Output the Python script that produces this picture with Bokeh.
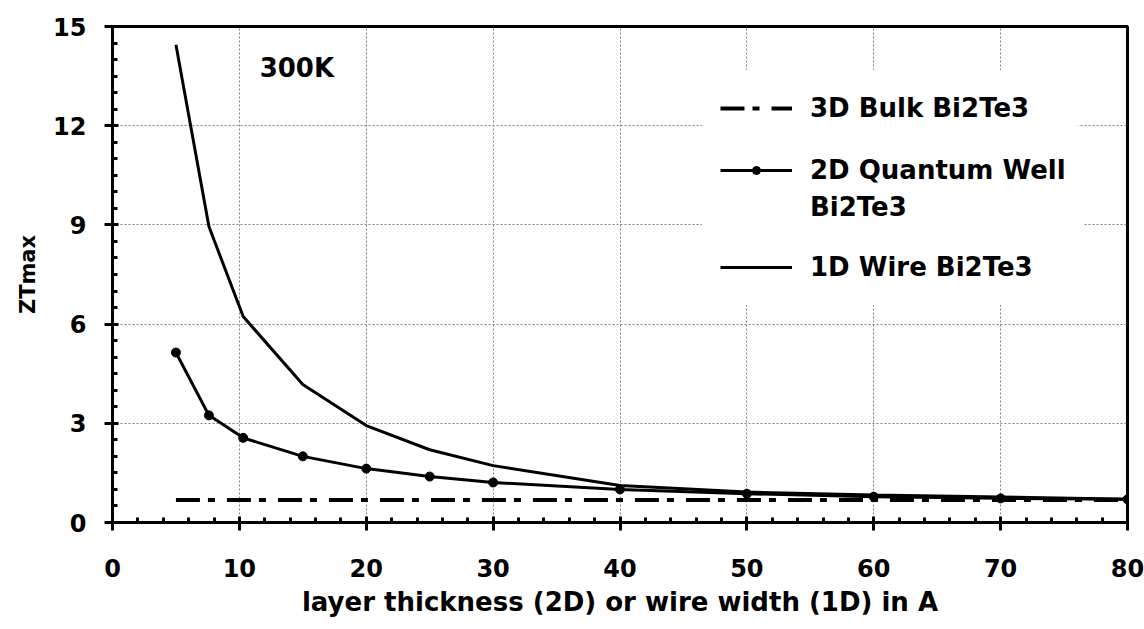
from bokeh.plotting import figure
from bokeh.models import FixedTicker, Range1d, Legend, LegendItem, Label
from bokeh.embed import file_html
from bokeh.resources import INLINE

# ---- data ----
thickness = [5, 7.6, 10.3, 15, 20, 25, 30, 40, 50, 60, 70, 80]
zt_2d = [5.14, 3.24, 2.56, 2.0, 1.63, 1.39, 1.21, 1.0, 0.87, 0.78, 0.73, 0.70]
zt_1d = [14.45, 8.95, 6.23, 4.17, 2.93, 2.2, 1.72, 1.12, 0.92, 0.83, 0.77, 0.70]
bulk_x = [5, 80]
bulk_zt = [0.68, 0.68]

x_ticks = [0, 10, 20, 30, 40, 50, 60, 70, 80]
y_ticks = [0, 3, 6, 9, 12, 15]

FONT = "DejaVu Sans"

p = figure(width=1144, height=629, output_backend="svg", toolbar_location=None,
           x_range=Range1d(0, 80), y_range=Range1d(0, 15),
           min_border_left=112, min_border_right=17, min_border_top=26,
           min_border_bottom=107)
p.background_fill_color = "white"
p.border_fill_color = "white"
p.outline_line_color = "black"
p.outline_line_width = 3

x_minor = [i * 2 for i in range(41)]
y_minor = [i * 0.5 for i in range(31)]
p.xaxis.ticker = FixedTicker(ticks=x_ticks, minor_ticks=x_minor)
p.yaxis.ticker = FixedTicker(ticks=y_ticks, minor_ticks=y_minor)

for ax in (p.xaxis[0], p.yaxis[0]):
    ax.axis_line_color = "black"
    ax.axis_line_width = 3
    ax.major_tick_line_color = "black"
    ax.major_tick_line_width = 3
    ax.minor_tick_line_color = "black"
    ax.minor_tick_line_width = 3
    ax.major_tick_in = 6
    ax.major_tick_out = 8
    ax.minor_tick_in = 5
    ax.minor_tick_out = 0
    ax.major_label_text_font = FONT
    ax.major_label_text_font_style = "bold"
    ax.major_label_text_font_size = "24px"
    ax.major_label_text_color = "black"
    ax.axis_label_text_font = FONT
    ax.axis_label_text_font_style = "bold"
    ax.axis_label_text_color = "black"

p.xaxis.axis_label = "layer thickness (2D) or wire width (1D) in A"
p.yaxis.axis_label = "ZTmax"
p.xaxis.axis_label_text_font_size = "26px"
p.yaxis.axis_label_text_font_size = "21px"
p.xaxis.major_label_standoff = 28
p.yaxis.major_label_standoff = 18
p.xaxis.axis_label_standoff = 7
p.yaxis.axis_label_standoff = 10

for g in (p.xgrid[0], p.ygrid[0]):
    g.grid_line_color = "#808080"
    g.grid_line_width = 1
    g.grid_line_dash = "2 2"

r_bulk = p.line(bulk_x, bulk_zt, line_color="black", line_width=4,
                line_dash="24 8 7 12")
r_1d = p.line(thickness, zt_1d, line_color="black", line_width=3)
r_2d = p.line(thickness, zt_2d, line_color="black", line_width=3)
r_2d_pts = p.scatter(thickness, zt_2d, size=9, color="black")
r_blank = p.line([], [], line_alpha=0)  # text-only legend row


def make_legend(items, loc, label_height, spacing):
    lg = Legend(items=items, location=loc)
    lg.background_fill_color = "white"
    lg.background_fill_alpha = 1.0
    lg.border_line_alpha = 0
    lg.padding = 18
    lg.glyph_width = 72
    lg.glyph_height = 20
    lg.label_height = label_height
    lg.label_width = 250
    lg.spacing = spacing
    lg.label_standoff = 18
    lg.label_text_font = FONT
    lg.label_text_font_style = "bold"
    lg.label_text_font_size = "26px"
    lg.label_text_color = "black"
    p.add_layout(lg, "center")


make_legend([LegendItem(label="3D Bulk Bi2Te3", renderers=[r_bulk])],
            (590, 376), 40, 0)
make_legend([LegendItem(label="2D Quantum Well", renderers=[r_2d, r_2d_pts]),
             LegendItem(label="Bi2Te3", renderers=[r_blank])],
            (590, 281), 33, 4)
make_legend([LegendItem(label="1D Wire Bi2Te3", renderers=[r_1d])],
            (590, 217), 40, 0)

p.add_layout(Label(x=11.6, y=13.76, text="300K", text_font=FONT,
                   text_font_style="bold", text_font_size="26px",
                   text_baseline="middle", text_color="black"))

open("out.html", "w").write(file_html(p, INLINE))
